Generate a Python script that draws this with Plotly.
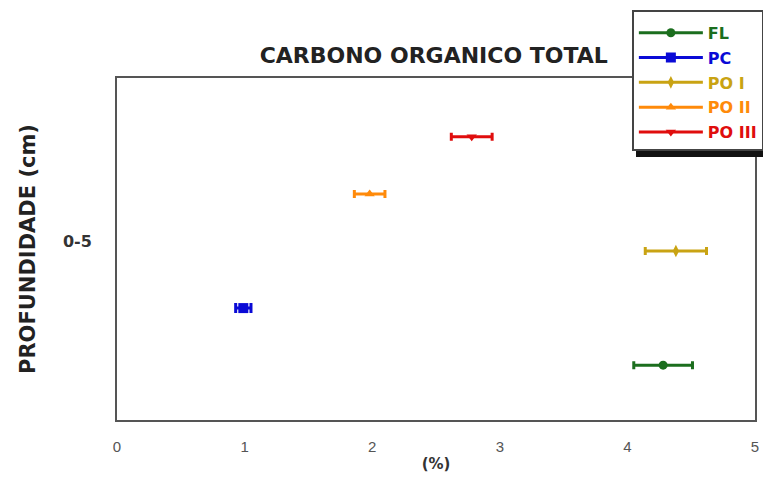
import plotly.graph_objects as go

series = ["FL", "PC", "PO I", "PO II", "PO III"]
values = [4.28, 0.99, 4.38, 1.98, 2.78]
errors = [0.23, 0.06, 0.24, 0.12, 0.16]
offsets = [-2, -1, 0, 1, 2]
colors = ["#1b6e1e", "#0a0ad6", "#c9a313", "#ff8a0a", "#e00d0d"]
symbols = ["circle", "square", "diamond-tall", "triangle-up", "triangle-down"]
depth_label = ["0-5"]
x_ticks = [0, 1, 2, 3, 4, 5]

BOLD = "DejaVu Sans, Verdana, sans-serif"

fig = go.Figure()
for i, (name, v, e, o, c, s) in enumerate(zip(series, values, errors, offsets, colors, symbols)):
    fig.add_trace(go.Scatter(
        x=[v], y=[o], mode="lines+markers", legendgroup=f"g{i}",
        name=f"<b><span style='color:{c}'>{name}</span></b>",
        marker=dict(color=c, symbol=s, size=10 if s == "square" else 9,
                    line=dict(width=0)),
        line=dict(color=c, width=3),
        error_x=dict(type="constant", value=e, color=c, thickness=3, width=5 if s == "square" else 4),
    ))

# legend drop shadow
fig.add_shape(type="rect", xref="paper", yref="paper",
              x0=0.8135, x1=1.03, y0=0.769, y1=1.187,
              fillcolor="#111111", line=dict(width=0), layer="above")

fig.update_layout(
    width=763, height=475,
    margin=dict(l=109, r=16, t=70, b=63, autoexpand=False),
    paper_bgcolor="white", plot_bgcolor="white",
    font=dict(family="Liberation Sans, Arial, sans-serif", color="#333333"),
    title=dict(text="<b>CARBONO ORGANICO TOTAL</b>", x=0.558, xanchor="center",
               y=0.9, yanchor="middle", font=dict(family=BOLD, size=22, color="#222222")),
    showlegend=True,
    legend=dict(x=0.807, y=1.199, xanchor="left", yanchor="top",
                bgcolor="white", bordercolor="#444444", borderwidth=2,
                font=dict(family=BOLD, size=16, color="#222222"), tracegroupgap=1,
                itemwidth=64,
                title=dict(text=" ", font=dict(size=3))),
    xaxis=dict(range=[0, 5], tickvals=x_ticks, showgrid=False, zeroline=False,
               showline=True, linecolor="#555555", linewidth=2, mirror=True,
               ticks="", ticklabelstandoff=12, tickfont=dict(size=15, color="#555555"),
               title=dict(text="<b>(%)</b>", standoff=4, font=dict(family=BOLD, size=15, color="#333333"))),
    yaxis=dict(range=[-2.96, 3.03], tickvals=[0.16], ticktext=["<b>" + depth_label[0] + "</b>"],
               showgrid=False, zeroline=False,
               showline=True, linecolor="#555555", linewidth=2, mirror=True,
               ticks="", ticklabelstandoff=20, tickfont=dict(family=BOLD, size=16, color="#333333"),
               title=dict(text="<b>PROFUNDIDADE (cm)</b>", standoff=22,
                          font=dict(family=BOLD, size=21, color="#222222"))),
)

fig.write_html("out.html")
